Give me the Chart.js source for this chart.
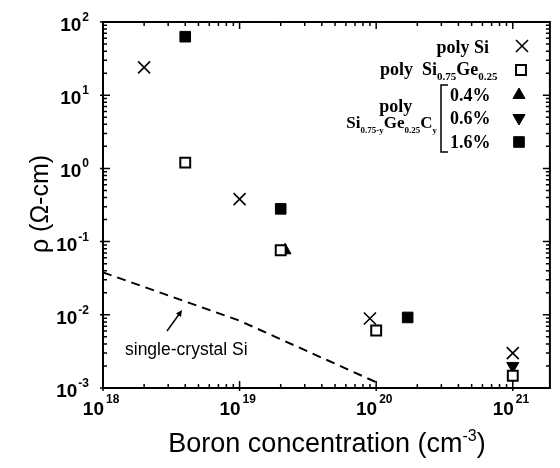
<!DOCTYPE html>
<html>
<head>
<meta charset="utf-8">
<script src="https://cdn.jsdelivr.net/npm/chart.js@4/dist/chart.umd.min.js"></script>
<style>
  html, body { margin: 0; padding: 0; background: #fff; }
  #wrap { width: 560px; height: 468px; }
</style>
</head>
<body>
<div id="wrap"><canvas id="c" width="560" height="468"></canvas></div>
<script>
// Resistivity vs boron concentration
const polySiX  = [2e18, 1e19, 9e19, 1e21];
const polySiY  = [24, 0.38, 0.0089, 0.0030];
const siGeX    = [4e18, 2e19, 1e20, 1e21];
const siGeY    = [1.2, 0.076, 0.0061, 0.00147];
const c04X     = [2.15e19];
const c04Y     = [0.076];
const c06X     = [1e21];
const c06Y     = [0.0020];
const c16X     = [4e18, 2e19, 1.7e20];
const c16Y     = [63, 0.28, 0.0092];
const crystalX = [1e18, 1e19, 1e20];
const crystalY = [0.038, 0.0083, 0.0012];

const xDecades = [18, 19, 20, 21];
const yDecades = [2, 1, 0, -1, -2, -3];

const pts = (xs, ys) => xs.map((x, i) => ({ x, y: ys[i] }));

const SANS = '"Liberation Sans", Arial, sans-serif';
const SERIF = '"Liberation Serif", "Times New Roman", serif';

// text runs with sub/superscripts
function runFont(r, size, family, weight, k) {
  const s = r.sub || r.sup ? Math.round(size * k) : size;
  return `${weight} ${s}px ${family}`;
}
function runsWidth(ctx, runs, size, family, weight, k = 0.6) {
  let w = 0;
  for (const r of runs) {
    ctx.font = runFont(r, size, family, weight, k);
    w += ctx.measureText(r.t).width;
  }
  return w;
}
function drawRuns(ctx, x, y, runs, size, family, weight, k = 0.6) {
  let cx = x;
  for (const r of runs) {
    ctx.font = runFont(r, size, family, weight, k);
    const dy = r.sub ? size * 0.3 : r.sup ? -size * 0.42 : 0;
    ctx.fillText(r.t, cx, y + dy);
    cx += ctx.measureText(r.t).width;
  }
  return cx;
}

const framePlugin = {
  id: 'frame',
  afterDatasetsDraw(chart) {
    const { ctx, chartArea: a, scales } = chart;
    const xs = scales.x, ys = scales.y;
    ctx.save();
    ctx.strokeStyle = '#000';
    ctx.fillStyle = '#000';

    // frame
    ctx.lineWidth = 2;
    ctx.strokeRect(a.left, a.top, a.right - a.left, a.bottom - a.top);

    // ticks on all four sides, pointing inward
    ctx.lineWidth = 1.5;
    ctx.beginPath();
    for (let d = 18; d <= 21; d++) {
      for (let m = 1; m <= 9; m++) {
        const v = m * Math.pow(10, d);
        const px = xs.getPixelForValue(v);
        if (px < a.left - 0.5 || px > a.right + 0.5) continue;
        const len = m === 1 ? 7 : 4;
        ctx.moveTo(px, a.bottom + (m === 1 ? 3 : 0)); ctx.lineTo(px, a.bottom - len);
        ctx.moveTo(px, a.top); ctx.lineTo(px, a.top + len);
      }
    }
    for (let d = -3; d <= 2; d++) {
      for (let m = 1; m <= 9; m++) {
        const v = m * Math.pow(10, d);
        if (v > 100.0001) continue;
        const py = ys.getPixelForValue(v);
        const len = m === 1 ? 7 : 4;
        ctx.moveTo(a.left - (m === 1 ? 3 : 0), py); ctx.lineTo(a.left + len, py);
        ctx.moveTo(a.right, py); ctx.lineTo(a.right - len, py);
      }
    }
    ctx.stroke();

    // x tick labels
    ctx.textBaseline = 'alphabetic';
    for (const d of xDecades) {
      const px = xs.getPixelForValue(Math.pow(10, d));
      ctx.font = `bold 19px ${SANS}`;
      ctx.textAlign = 'right';
      ctx.fillText('10', px + 1, 415);
      ctx.font = `bold 12px ${SANS}`;
      ctx.textAlign = 'left';
      ctx.fillText(String(d), px + 3, 403);
    }
    // y tick labels
    for (const d of yDecades) {
      const py = ys.getPixelForValue(Math.pow(10, d));
      const exp = d < 0 ? '-' + (-d) : String(d);
      ctx.font = `bold 12px ${SANS}`;
      const ew = ctx.measureText(exp).width;
      ctx.textAlign = 'right';
      ctx.fillText(exp, 89, py - 1);
      ctx.font = `bold 19px ${SANS}`;
      ctx.fillText('10', 89 - ew - 1, py + 9);
    }

    // axis titles
    ctx.textAlign = 'left';
    const xt = [{ t: 'Boron concentration (cm' }, { t: '-3', sup: true }, { t: ')' }];
    const xw = runsWidth(ctx, xt, 27, SANS, 'normal');
    drawRuns(ctx, 327 - xw / 2, 452, xt, 27, SANS, 'normal');

    ctx.save();
    ctx.translate(48, 204);
    ctx.rotate(-Math.PI / 2);
    ctx.textAlign = 'center';
    ctx.font = `25px ${SANS}`;
    ctx.fillText('\u03C1 (\u03A9-cm)', 0, 0);
    ctx.restore();

    // annotation for the single-crystal curve
    ctx.font = `17.5px ${SANS}`;
    ctx.textAlign = 'left';
    ctx.fillText('single-crystal Si', 125, 355);
    ctx.lineWidth = 1.5;
    ctx.beginPath();
    ctx.moveTo(167, 331); ctx.lineTo(180, 313);
    ctx.stroke();
    ctx.beginPath();
    ctx.moveTo(182, 310); ctx.lineTo(176, 313.5); ctx.lineTo(181, 317); ctx.closePath();
    ctx.fill();

    // legend
    const LS = 18;
    ctx.font = `bold ${LS}px ${SERIF}`;
    ctx.textAlign = 'right';
    ctx.fillText('poly Si', 489, 53);
    ctx.textAlign = 'left';
    drawRuns(ctx, 380, 75, [{ t: 'poly  Si' }, { t: '0.75', sub: true }, { t: 'Ge' }, { t: '0.25', sub: true }], LS, SERIF, 'bold');
    const f4 = [{ t: 'Si' }, { t: '0.75-y', sub: true }, { t: 'Ge' }, { t: '0.25', sub: true }, { t: 'C' }, { t: 'y', sub: true }];
    const w4 = runsWidth(ctx, f4, 17, SERIF, 'bold', 0.52);
    const x4 = 437 - w4;
    drawRuns(ctx, x4, 128, f4, 17, SERIF, 'bold', 0.52);
    ctx.font = `bold ${LS}px ${SERIF}`;
    ctx.textAlign = 'center';
    ctx.fillText('poly', x4 + w4 / 2 + 4, 112);
    ctx.textAlign = 'left';
    ctx.fillText('0.4%', 450, 101);
    ctx.fillText('0.6%', 450, 124);
    ctx.fillText('1.6%', 450, 148);
    // bracket grouping the carbon fractions
    ctx.lineWidth = 1.5;
    ctx.beginPath();
    ctx.moveTo(448, 85); ctx.lineTo(441, 85); ctx.lineTo(441, 152); ctx.lineTo(448, 152);
    ctx.stroke();

    const H = Chart.helpers;
    const mk = (style, r, rot, fill, bw, x, y) => {
      ctx.fillStyle = fill ? '#000' : '#fff';
      ctx.strokeStyle = '#000';
      ctx.lineWidth = bw;
      H.drawPoint(ctx, { pointStyle: style, radius: r, rotation: rot, borderWidth: bw }, x, y);
    };
    mk('crossRot', 8.5, 0, true, 1.6, 522, 46);
    mk('rect', 7, 0, false, 2, 521, 70);
    mk('triangle', 7, 0, true, 1, 519, 95);
    mk('triangle', 7, 180, true, 1, 519, 118);
    mk('rect', 7.5, 0, true, 1, 519, 142);

    ctx.restore();
  }
};

new Chart(document.getElementById('c'), {
  type: 'scatter',
  data: {
    datasets: [
      {
        label: 'single-crystal Si',
        data: pts(crystalX, crystalY),
        showLine: true,
        borderColor: '#000',
        borderWidth: 2,
        borderDash: [9, 6],
        pointRadius: 0,
        fill: false
      },
      {
        label: 'poly Si',
        data: pts(polySiX, polySiY),
        pointStyle: 'crossRot',
        pointRadius: 8.5,
        borderColor: '#000',
        borderWidth: 1.6,
        backgroundColor: '#000'
      },
      {
        label: 'poly Si0.75Ge0.25',
        data: pts(siGeX, siGeY),
        pointStyle: 'rect',
        pointRadius: 7,
        borderColor: '#000',
        borderWidth: 2,
        backgroundColor: '#fff'
      },
      {
        label: '0.4%',
        data: pts(c04X, c04Y),
        pointStyle: 'triangle',
        pointRadius: 7,
        borderColor: '#000',
        borderWidth: 1,
        backgroundColor: '#000'
      },
      {
        label: '0.6%',
        data: pts(c06X, c06Y),
        pointStyle: 'triangle',
        rotation: 180,
        pointRadius: 7,
        borderColor: '#000',
        borderWidth: 1,
        backgroundColor: '#000'
      },
      {
        label: '1.6%',
        data: pts(c16X, c16Y),
        pointStyle: 'rect',
        pointRadius: 7.5,
        borderColor: '#000',
        borderWidth: 1,
        backgroundColor: '#000'
      }
    ]
  },
  options: {
    responsive: false,
    devicePixelRatio: 1,
    animation: false,
    layout: { padding: { left: 103, right: 7, top: 22, bottom: 80 } },
    plugins: { legend: { display: false }, tooltip: { enabled: false } },
    scales: {
      x: { type: 'logarithmic', min: 1e18, max: 1.87e21, display: false },
      y: { type: 'logarithmic', min: 1e-3, max: 1e2, display: false }
    }
  },
  plugins: [framePlugin]
});
</script>
</body>
</html>
